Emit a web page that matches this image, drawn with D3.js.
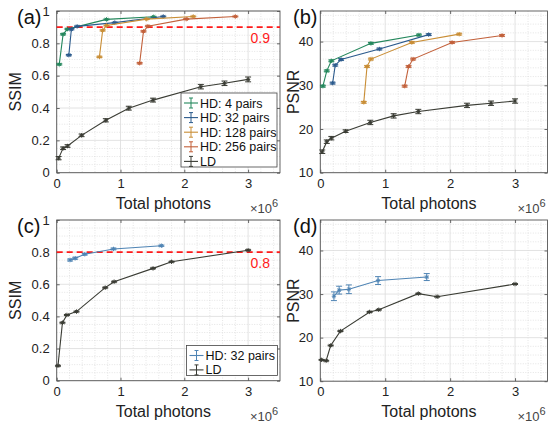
<!DOCTYPE html>
<html>
<head>
<meta charset="utf-8">
<script src="https://cdn.jsdelivr.net/npm/d3@7"></script>
<style>
  html, body { margin: 0; padding: 0; background: #fff; }
  svg { display: block; font-family: "Liberation Sans", Arial, sans-serif; }
</style>
</head>
<body>
<div class="chart"></div>
<script>
// ---- data (x in units of 1e6 photons) ----
const xTicks = [0, 1, 2, 3];
const ssimTicks = [0, 0.2, 0.4, 0.6, 0.8, 1];
const psnrTicks = [10, 20, 30, 40];

// (a)/(b) HD curves
const hd4X = [0.04, 0.10, 0.17, 0.78, 1.52];
const hd4Ssim = [0.670, 0.856, 0.888, 0.948, 0.964];
const hd4Psnr = [29.8, 33.3, 35.6, 39.6, 41.5];
const hd32X = [0.19, 0.23, 0.32, 0.91, 1.67];
const hd32Ssim = [0.727, 0.887, 0.905, 0.928, 0.966];
const hd32Psnr = [30.5, 34.6, 35.9, 38.3, 41.6];
const hd128X = [0.67, 0.72, 0.78, 1.41, 2.14];
const hd128Ssim = [0.716, 0.880, 0.910, 0.950, 0.966];
const hd128Psnr = [26.1, 34.3, 36.0, 39.8, 41.7];
const hd256X = [1.30, 1.36, 1.43, 2.03, 2.80];
const hd256Ssim = [0.677, 0.874, 0.906, 0.950, 0.966];
const hd256Psnr = [29.8, 34.3, 36.0, 39.8, 41.4];
const hdSsimErr = [0.004, 0.004, 0.003, 0.003, 0.003];
const hdPsnrErr = [0.2, 0.2, 0.2, 0.2, 0.2];

// (a)/(b) LD curve
const ldX = [0.03, 0.10, 0.17, 0.39, 0.77, 1.13, 1.51, 2.26, 2.63, 3.00];
const ldSsim = [0.090, 0.151, 0.165, 0.231, 0.324, 0.399, 0.449, 0.532, 0.553, 0.577];
const ldSsimErr = [0.010, 0.008, 0.008, 0.008, 0.010, 0.012, 0.012, 0.014, 0.014, 0.015];
const ldPsnr = [14.8, 17.1, 17.9, 19.5, 21.5, 23.0, 24.0, 25.4, 25.9, 26.4];
const ldPsnrErr = [0.4, 0.4, 0.4, 0.3, 0.5, 0.5, 0.5, 0.5, 0.5, 0.5];

// (c)/(d) second experiment
const expHdX = [0.21, 0.29, 0.44, 0.89, 1.64];
const expHdSsim = [0.751, 0.762, 0.787, 0.820, 0.840];
const expHdSsimErr = [0.006, 0.006, 0.005, 0.005, 0.004];
const expHdPsnr = [29.5, 30.9, 31.1, 33.1, 33.9];
const expHdPsnrErr = [1.0, 0.9, 1.0, 0.9, 0.8];
const expLdX = [0.02, 0.09, 0.16, 0.31, 0.76, 0.90, 1.51, 1.80, 3.00];
const expLdSsim = [0.093, 0.361, 0.409, 0.430, 0.579, 0.616, 0.699, 0.740, 0.812];
const expLdPsnr = [14.9, 14.7, 18.2, 21.5, 25.9, 26.4, 30.1, 29.4, 32.3];

const ssimThrAB = 0.9;
const ssimThrCD = 0.8;

const zip = (xs, ys, es) => xs.map((x, i) => ({ x: x, y: ys[i], e: es ? es[i] : 0 }));

// ---- styling ----
const color = {
  hd4: '#23875c', hd32: '#2b5a8c', hd128: '#c98e36', hd256: '#c2603a',
  ld: '#3a3c34', exp: '#4f84b4'
};

const W = 558, H = 431;
const svg = d3.select('.chart').append('svg')
  .attr('width', W).attr('height', H)
  .attr('viewBox', `0 0 ${W} ${H}`);

function panel(cfg) {
  const x = d3.scaleLinear().domain([0, 3.5]).range([cfg.left, cfg.right]);
  const y = d3.scaleLinear().domain(cfg.yDomain).range([cfg.bottom, cfg.top]);
  const g = svg.append('g');

  // grid: minor dotted, major solid
  const xMinor = d3.range(0, 3.5001, 0.2).filter(v => Math.abs(v - Math.round(v)) > 1e-6);
  const yMinor = d3.range(cfg.yDomain[0], cfg.yDomain[1] + 1e-6, cfg.yMinorStep)
    .filter(v => !cfg.yTicks.some(t => Math.abs(t - v) < 1e-6));
  g.selectAll('.xminor').data(xMinor).enter().append('line')
    .attr('x1', d => x(d)).attr('x2', d => x(d)).attr('y1', cfg.top).attr('y2', cfg.bottom)
    .attr('stroke', '#d3d3d3').attr('stroke-width', 0.6).attr('stroke-dasharray', '1,1.5');
  g.selectAll('.yminor').data(yMinor).enter().append('line')
    .attr('y1', d => y(d)).attr('y2', d => y(d)).attr('x1', cfg.left).attr('x2', cfg.right)
    .attr('stroke', '#d3d3d3').attr('stroke-width', 0.6).attr('stroke-dasharray', '1,1.5');
  g.selectAll('.xmajor').data(xTicks).enter().append('line')
    .attr('x1', d => x(d)).attr('x2', d => x(d)).attr('y1', cfg.top).attr('y2', cfg.bottom)
    .attr('stroke', '#dcdcdc').attr('stroke-width', 0.8);
  g.selectAll('.ymajor').data(cfg.yTicks).enter().append('line')
    .attr('y1', d => y(d)).attr('y2', d => y(d)).attr('x1', cfg.left).attr('x2', cfg.right)
    .attr('stroke', '#dcdcdc').attr('stroke-width', 0.8);

  // axes (ticks inside, box)
  const axB = g.append('g').attr('transform', `translate(0,${cfg.bottom})`)
    .call(d3.axisBottom(x).tickValues(xTicks).tickSizeInner(-3).tickSizeOuter(0).tickPadding(6).tickFormat(d3.format('d')));
  const axT = g.append('g').attr('transform', `translate(0,${cfg.top})`)
    .call(d3.axisTop(x).tickValues(xTicks).tickSizeInner(-3).tickSizeOuter(0).tickFormat(''));
  const axL = g.append('g').attr('transform', `translate(${cfg.left},0)`)
    .call(d3.axisLeft(y).tickValues(cfg.yTicks).tickSizeInner(-3).tickSizeOuter(0).tickPadding(7).tickFormat(cfg.yFormat));
  const axR = g.append('g').attr('transform', `translate(${cfg.right},0)`)
    .call(d3.axisRight(y).tickValues(cfg.yTicks).tickSizeInner(-3).tickSizeOuter(0).tickFormat(''));
  [axB, axT, axL, axR].forEach(a => {
    a.select('.domain').remove();
    a.selectAll('line').attr('stroke', '#444').attr('stroke-width', 0.8);
    a.selectAll('text').attr('font-size', 13).attr('fill', '#222')
      .attr('font-family', '"Liberation Sans", Arial, sans-serif');
  });
  g.append('rect')
    .attr('x', cfg.left).attr('y', cfg.top)
    .attr('width', cfg.right - cfg.left).attr('height', cfg.bottom - cfg.top)
    .attr('fill', 'none').attr('stroke', '#555').attr('stroke-width', 0.9);

  // threshold line
  if (cfg.thr !== undefined) {
    g.append('line')
      .attr('x1', cfg.left).attr('x2', cfg.right)
      .attr('y1', y(cfg.thr)).attr('y2', y(cfg.thr))
      .attr('stroke', '#ff1a1a').attr('stroke-width', 1.8).attr('stroke-dasharray', '6,4');
    g.append('text')
      .attr('x', cfg.right - 10).attr('y', y(cfg.thr) + 16)
      .attr('text-anchor', 'end').attr('font-size', 14).attr('fill', '#ff1a1a')
      .text(d3.format('.1f')(cfg.thr));
  }

  // series
  const line = d3.line().x(d => x(d.x)).y(d => y(d.y));
  cfg.series.forEach(s => {
    const sg = g.append('g');
    sg.append('path').datum(s.data)
      .attr('d', line).attr('fill', 'none').attr('stroke', s.color).attr('stroke-width', 1.1);
    const pts = sg.selectAll('g.pt').data(s.data).enter().append('g').attr('class', 'pt');
    pts.append('line')
      .attr('x1', d => x(d.x)).attr('x2', d => x(d.x))
      .attr('y1', d => y(d.y - d.e)).attr('y2', d => y(d.y + d.e))
      .attr('stroke', s.color).attr('stroke-width', 1);
    [-1, 1].forEach(sgn => {
      pts.append('line')
        .attr('x1', d => x(d.x) - 3).attr('x2', d => x(d.x) + 3)
        .attr('y1', d => y(d.y + sgn * d.e)).attr('y2', d => y(d.y + sgn * d.e))
        .attr('stroke', s.color).attr('stroke-width', 1);
    });
    pts.append('path')
      .attr('d', d => {
        const px = x(d.x), py = y(d.y);
        return `M${px - 2.2},${py}H${px + 2.2}M${px},${py - 2.2}V${py + 2.2}` +
          `M${px - 1.6},${py - 1.6}L${px + 1.6},${py + 1.6}M${px - 1.6},${py + 1.6}L${px + 1.6},${py - 1.6}`;
      })
      .attr('stroke', s.color).attr('stroke-width', 1);
  });

  // labels
  g.append('text').attr('x', cfg.labelX).attr('y', cfg.top + 13)
    .attr('font-size', 20).attr('fill', '#111').text(cfg.tag);
  g.append('text')
    .attr('transform', `translate(${cfg.yLabelX},${(cfg.top + cfg.bottom) / 2}) rotate(-90)`)
    .attr('text-anchor', 'middle').attr('font-size', 16).attr('fill', '#222').text(cfg.yLabel);
  g.append('text')
    .attr('x', (cfg.left + cfg.right) / 2 - 5).attr('y', cfg.bottom + 36)
    .attr('text-anchor', 'middle').attr('font-size', 16).attr('fill', '#222').text('Total photons');
  const mult = g.append('text')
    .attr('x', cfg.right - 30).attr('y', cfg.bottom + 40)
    .attr('font-size', 13).attr('fill', '#444');
  mult.append('tspan').text('×10');
  mult.append('tspan').attr('dy', -6).attr('font-size', 11).text('6');

  // legend
  if (cfg.legend) {
    const L = cfg.legend;
    const lg = g.append('g');
    lg.append('rect')
      .attr('x', L.x).attr('y', L.y).attr('width', L.w).attr('height', L.h)
      .attr('fill', '#fff').attr('stroke', '#444').attr('stroke-width', 0.8);
    L.items.forEach((it, i) => {
      const cy = L.y + 10 + i * L.step;
      const ix = L.x + 3;
      lg.append('line').attr('x1', ix).attr('x2', ix + 14).attr('y1', cy).attr('y2', cy)
        .attr('stroke', it.color).attr('stroke-width', 1.1);
      lg.append('line').attr('x1', ix + 7).attr('x2', ix + 7).attr('y1', cy - 5).attr('y2', cy + 5)
        .attr('stroke', it.color).attr('stroke-width', 1);
      [-5, 5].forEach(o => lg.append('line').attr('x1', ix + 5).attr('x2', ix + 9)
        .attr('y1', cy + o).attr('y2', cy + o).attr('stroke', it.color).attr('stroke-width', 1));
      lg.append('text').attr('x', ix + 16).attr('y', cy + 4.5)
        .attr('font-size', 12.5).attr('fill', '#111').text(it.name);
    });
  }
}

const abSeriesSsim = [
  { color: color.hd4, data: zip(hd4X, hd4Ssim, hdSsimErr) },
  { color: color.hd32, data: zip(hd32X, hd32Ssim, hdSsimErr) },
  { color: color.hd128, data: zip(hd128X, hd128Ssim, hdSsimErr) },
  { color: color.hd256, data: zip(hd256X, hd256Ssim, hdSsimErr) },
  { color: color.ld, data: zip(ldX, ldSsim, ldSsimErr) }
];
const abSeriesPsnr = [
  { color: color.hd4, data: zip(hd4X, hd4Psnr, hdPsnrErr) },
  { color: color.hd32, data: zip(hd32X, hd32Psnr, hdPsnrErr) },
  { color: color.hd128, data: zip(hd128X, hd128Psnr, hdPsnrErr) },
  { color: color.hd256, data: zip(hd256X, hd256Psnr, hdPsnrErr) },
  { color: color.ld, data: zip(ldX, ldPsnr, ldPsnrErr) }
];

const ssimFmt = d => d === 0 || d === 1 ? String(d) : d3.format('.1f')(d);

panel({
  tag: '(a)', labelX: 17, left: 56.7, right: 280, top: 11, bottom: 172.7, yLabelX: 21,
  yDomain: [0, 1], yTicks: ssimTicks, yMinorStep: 0.05, yFormat: ssimFmt, yLabel: 'SSIM',
  thr: ssimThrAB, series: abSeriesSsim,
  legend: {
    x: 181, y: 93, w: 96, h: 74, step: 14.6,
    items: [
      { name: 'HD: 4 pairs', color: color.hd4 },
      { name: 'HD: 32 pairs', color: color.hd32 },
      { name: 'HD: 128 pairs', color: color.hd128 },
      { name: 'HD: 256 pairs', color: color.hd256 },
      { name: 'LD', color: color.ld }
    ]
  }
});

panel({
  tag: '(b)', labelX: 293, left: 320.3, right: 547.5, top: 11, bottom: 172.7, yLabelX: 298.5,
  yDomain: [10, 47], yTicks: psnrTicks, yMinorStep: 2, yFormat: d3.format('d'), yLabel: 'PSNR',
  series: abSeriesPsnr
});

panel({
  tag: '(c)', labelX: 17, left: 56.7, right: 280, top: 220, bottom: 380.7, yLabelX: 21,
  yDomain: [0, 1], yTicks: ssimTicks, yMinorStep: 0.05, yFormat: ssimFmt, yLabel: 'SSIM',
  thr: ssimThrCD,
  series: [
    { color: color.exp, data: zip(expHdX, expHdSsim, expHdSsimErr) },
    { color: color.ld, data: zip(expLdX, expLdSsim, expLdX.map(() => 0.003)) }
  ],
  legend: {
    x: 186.5, y: 345.5, w: 91, h: 30, step: 14.4,
    items: [
      { name: 'HD: 32 pairs', color: color.exp },
      { name: 'LD', color: color.ld }
    ]
  }
});

panel({
  tag: '(d)', labelX: 293, left: 320.3, right: 547.5, top: 220, bottom: 381.2, yLabelX: 298.5,
  yDomain: [10, 47], yTicks: psnrTicks, yMinorStep: 2, yFormat: d3.format('d'), yLabel: 'PSNR',
  series: [
    { color: color.exp, data: zip(expHdX, expHdPsnr, expHdPsnrErr) },
    { color: color.ld, data: zip(expLdX, expLdPsnr, expLdX.map(() => 0.1)) }
  ]
});
</script>
</body>
</html>
